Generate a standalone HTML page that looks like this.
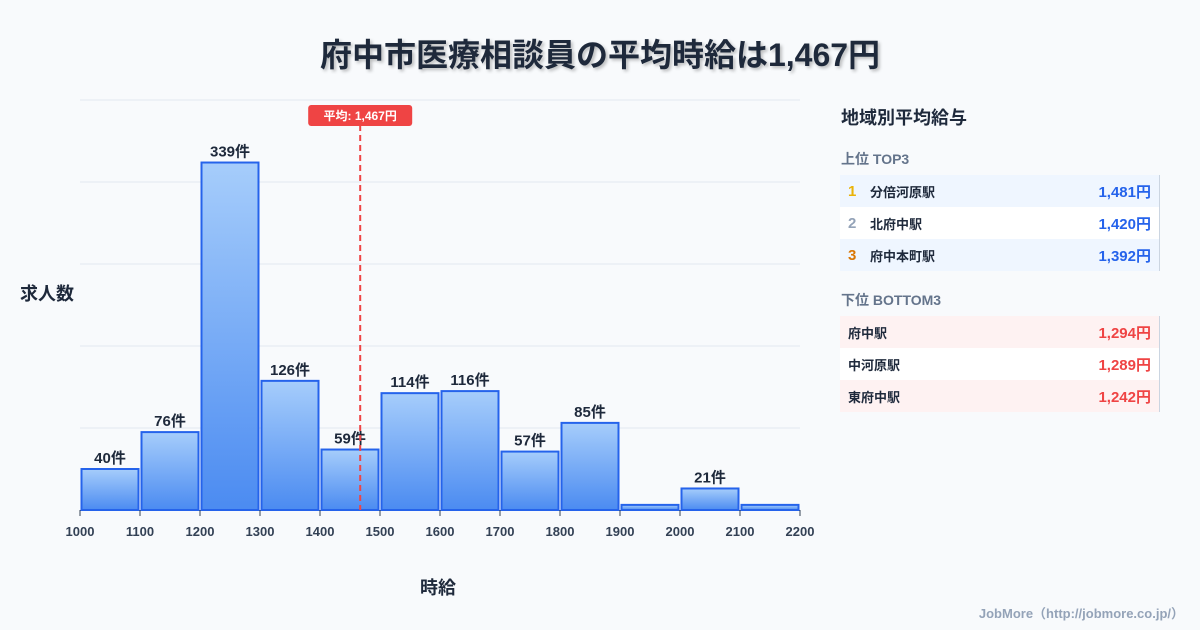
<!DOCTYPE html>
<html><head><meta charset="utf-8">
<style>
body{margin:0;width:1200px;height:630px;background:#f8fafc;font-family:"Liberation Sans","Noto Sans CJK JP",sans-serif;overflow:hidden;position:relative;color:#1e293b}
.t{position:absolute;white-space:nowrap}
.row{position:absolute;left:840px;width:320px;box-sizing:border-box;height:32px;padding:0 8px 0 8px;font-size:13px;font-weight:bold;border-right:1px solid #cbd5e1;display:flex;align-items:center}
.row .n{flex:1}
.row .r{width:22px;font-size:15px}
.row .v{font-size:15px}
</style></head><body>
<div class="t" style="left:0;width:1200px;text-align:center;top:30px;font-size:32px;font-weight:bold;color:#1e293b;text-shadow:2px 2px 3px rgba(0,0,0,0.25)">府中市医療相談員の平均時給は1,467円</div>
<div class="t" style="left:20px;top:280px;font-size:18px;font-weight:bold">求人数</div>
<div class="t" style="left:420px;top:574px;font-size:18px;font-weight:bold">時給</div>
<svg id="chart" width="1200" height="630" style="position:absolute;left:0;top:0">
<defs><linearGradient id="g" x1="0" y1="0" x2="0" y2="1"><stop offset="0" stop-color="#a6cdfb"/><stop offset="1" stop-color="#4b8bf1"/></linearGradient></defs>
</svg>
<div class="t" style="left:841px;top:104px;font-size:18px;font-weight:bold">地域別平均給与</div>
<div class="t" style="left:841px;top:149px;font-size:14px;font-weight:bold;color:#64748b">上位 TOP3</div>
<div class="t" style="left:841px;top:290px;font-size:14px;font-weight:bold;color:#64748b">下位 BOTTOM3</div>
<div id="rows"></div>
<div class="t" style="right:16px;top:603px;font-size:13px;font-weight:bold;color:#94a3b8">JobMore（http://jobmore.co.jp/）</div>
<script>
const bins=[1000,1100,1200,1300,1400,1500,1600,1700,1800,1900,2000,2100];
const counts=[40,76,339,126,59,114,116,57,85,5,21,5];
const labels=["40件","76件","339件","126件","59件","114件","116件","57件","85件","","21件",""];
const xTicks=[1000,1100,1200,1300,1400,1500,1600,1700,1800,1900,2000,2100,2200];
const yGrid=[0,80,160,240,320,400];
const avg=1467;
const NS="http://www.w3.org/2000/svg";
const svg=document.getElementById('chart');
const x=v=>80+(v-1000)*0.6, y=v=>510-v*1.025;
function el(t,a){const e=document.createElementNS(NS,t);for(const k in a)e.setAttribute(k,a[k]);svg.appendChild(e);return e;}
yGrid.forEach(g=>{const l=el('line',{x1:80,x2:800,y1:y(g),y2:y(g),stroke:'#e2e8f0','stroke-width':1});

});
bins.forEach((b,i)=>{
 const r=el('rect',{x:x(b)+1.5,y:y(counts[i]),width:57,height:counts[i]*1.025,fill:'url(#g)',stroke:'#2563eb','stroke-width':2});
 
 
 if(labels[i]){const t=el('text',{x:x(b)+30,y:y(counts[i])-6,'text-anchor':'middle','font-size':15,'font-weight':'bold',fill:'#1e293b'});t.textContent=labels[i];
 
 }
});
xTicks.forEach(v=>{el('line',{x1:x(v),x2:x(v),y1:510,y2:516,stroke:'#334155'});
 const t=el('text',{x:x(v),y:536,'text-anchor':'middle','font-size':13,'font-weight':'bold',fill:'#334155'});t.textContent=v;
 
 });
const al=el('line',{x1:x(avg),x2:x(avg),y1:125,y2:510,stroke:'#ef4444','stroke-width':2,'stroke-dasharray':'6,4'});


const ab=el('rect',{x:x(avg)-52,y:105,width:104,height:21,rx:3,fill:'#ef4444'});


const at=el('text',{x:x(avg),y:120,'text-anchor':'middle','font-size':12,'font-weight':'bold',fill:'#fff'});at.textContent='平均: 1,467円';


const topNames=["分倍河原駅","北府中駅","府中本町駅"],topVals=["1,481円","1,420円","1,392円"];
const botNames=["府中駅","中河原駅","東府中駅"],botVals=["1,294円","1,289円","1,242円"];
const rankCol=['#eab308','#94a3b8','#d97706'];
const R=document.getElementById('rows');
topNames.forEach((n,i)=>{const d=document.createElement('div');d.className='row';
 
 
 d.style.top=(175+i*32)+'px';d.style.background=i%2?'#fff':'#eff6ff';
 d.innerHTML=`<span class="r" style="color:${rankCol[i]}">${i+1}</span><span class="n">${n}</span><span class="v" style="color:#2563eb">${topVals[i]}</span>`;R.appendChild(d);});
botNames.forEach((n,i)=>{const d=document.createElement('div');d.className='row';
 
 
 d.style.top=(316+i*32)+'px';d.style.background=i%2?'#fff':'#fef2f2';
 d.innerHTML=`<span class="n">${n}</span><span class="v" style="color:#ef4444">${botVals[i]}</span>`;R.appendChild(d);});
</script>
</body></html>
